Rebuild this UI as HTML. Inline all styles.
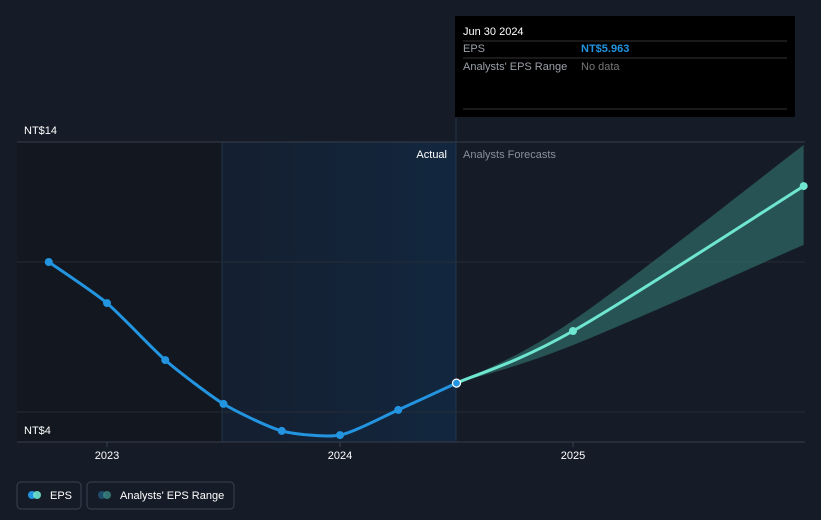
<!DOCTYPE html>
<html><head><meta charset="utf-8"><style>
body{margin:0;background:#161c27;font-family:"Liberation Sans",sans-serif;}
svg{display:block}
</style></head><body>
<svg width="821" height="520" xmlns="http://www.w3.org/2000/svg">
<defs>
<linearGradient id="pastg" x1="0" x2="1" y1="0" y2="0"><stop offset="0" stop-color="#13233a" stop-opacity="0.5"/><stop offset="1" stop-color="#12273f"/></linearGradient>
</defs>
<rect width="821" height="520" fill="#161c27"/>
<rect x="17" y="142" width="205" height="300" fill="#121720"/>
<rect x="222" y="142" width="234" height="300" fill="url(#pastg)"/>
<line x1="222" y1="142" x2="222" y2="442" stroke="#1f3348"/>
<g id="grid"></g>
<line x1="456" y1="118" x2="456" y2="442" stroke="#22344a"/>
<text x="447" y="158" fill="#fff" font-size="11" text-anchor="end">Actual</text>
<text x="463" y="158" fill="#8a909a" font-size="11">Analysts Forecasts</text>
<g id="marks"></g>
<g id="xt"></g>
<rect x="455" y="16" width="340" height="101" fill="#000"/>
<text x="463" y="35" fill="#fff" font-size="11">Jun 30 2024</text>
<line x1="463" y1="41" x2="787" y2="41" stroke="#333"/>
<text x="463" y="52" fill="#9aa0a8" font-size="11">EPS</text>
<text x="581" y="52" fill="#2394df" font-size="11" font-weight="bold">NT$5.963</text>
<line x1="463" y1="58" x2="787" y2="58" stroke="#333"/>
<text x="463" y="70" fill="#9aa0a8" font-size="11">Analysts' EPS Range</text>
<text x="581" y="70" fill="#777" font-size="11">No data</text>
<line x1="463" y1="109" x2="787" y2="109" stroke="#333"/>
<rect x="17" y="482" width="64" height="27" rx="4" fill="none" stroke="#3a4250"/>
<circle cx="32" cy="495" r="4" fill="#2394df"/><circle cx="37" cy="495" r="4" fill="#6fe6d0" opacity="0.9"/>
<text x="50" y="499" fill="#fff" font-size="11">EPS</text>
<rect x="87" y="482" width="147" height="27" rx="4" fill="none" stroke="#3a4250"/>
<circle cx="102" cy="495" r="4" fill="#1e4c68"/><circle cx="107" cy="495" r="4" fill="#3a8a84" opacity="0.8"/>
<text x="120" y="499" fill="#fff" font-size="11">Analysts' EPS Range</text>
</svg>
<script>
const actualDates=[2022.75,2023.0,2023.25,2023.5,2023.75,2024.0,2024.25,2024.5];
const actualEps=[10.0,8.63,6.73,5.27,4.37,4.23,5.07,5.963];
const fcDates=[2024.5,2025.0,2025.99];
const fcEps=[5.963,7.7,12.53];
const fcLow=[5.963,7.23,10.57];
const fcHigh=[5.963,8.05,13.9];
const gridVals=[14,10,5,4];
const yLabels=[14,4];
const xTicks=[2023,2024,2025];
const ns="http://www.w3.org/2000/svg";
const X=d=>107+(d-2023)*233;
const Y=v=>142+(14-v)*30;
function mk(t,a,p){const e=document.createElementNS(ns,t);for(const k in a)e.setAttribute(k,a[k]);p.appendChild(e);return e;}
const grid=document.getElementById('grid'),marks=document.getElementById('marks'),xt=document.getElementById('xt');
gridVals.forEach(v=>{const l=mk('line',{x1:17,x2:805,y1:Y(v),y2:Y(v),stroke:v==4||v==14?'#363e4b':'#262c36'},grid);

});
yLabels.forEach(v=>{const t=mk('text',{x:24,y:Y(v)-8,fill:'#fff','font-size':11},grid);t.textContent='NT$'+v;

});
xTicks.forEach(d=>{mk('line',{x1:X(d),x2:X(d),y1:442,y2:447,stroke:'#3a4250'},xt);const t=mk('text',{x:X(d),y:459,fill:'#fff','font-size':11,'text-anchor':'middle'},xt);t.textContent=d;

});
function smooth(pts,k){k=k||6;let d='M'+pts[0][0]+','+pts[0][1];for(let i=0;i<pts.length-1;i++){const p0=pts[i-1]||pts[i],p1=pts[i],p2=pts[i+1],p3=pts[i+2]||p2;
d+=' C'+(p1[0]+(p2[0]-p0[0])/k)+','+(p1[1]+(p2[1]-p0[1])/k)+' '+(p2[0]-(p3[0]-p1[0])/k)+','+(p2[1]-(p3[1]-p1[1])/k)+' '+p2[0]+','+p2[1];}return d;}
const hi=fcDates.map((d,i)=>[X(d),Y(fcHigh[i])]),lo=fcDates.map((d,i)=>[X(d),Y(fcLow[i])]);
let band=smooth(hi)+' L'+lo[lo.length-1].join(',')+' '+smooth(lo.slice().reverse()).replace('M','L')+'Z';
const b=mk('path',{d:band,fill:'#2f6b68',opacity:0.7},marks);


const ap=actualDates.map((d,i)=>[X(d),Y(actualEps[i])]);
const al=mk('path',{d:smooth(ap,9),fill:'none',stroke:'#2394df','stroke-width':3},marks);


const fp=fcDates.map((d,i)=>[X(d),Y(fcEps[i])]);
const fl=mk('path',{d:smooth(fp),fill:'none',stroke:'#6fe6d0','stroke-width':3},marks);


ap.forEach((p,i)=>{const last=i==ap.length-1;const c=mk('circle',{cx:p[0],cy:p[1],r:4,fill:'#2394df',stroke:last?'#fff':'none','stroke-width':1.2},marks);

});
fp.slice(1).forEach(p=>{const c=mk('circle',{cx:p[0],cy:p[1],r:4,fill:'#6fe6d0'},marks);

});
</script>
</body></html>
